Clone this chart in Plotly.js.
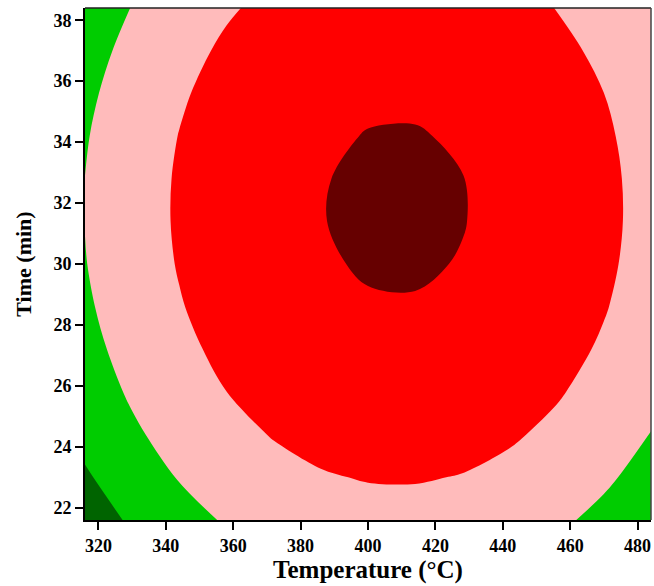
<!DOCTYPE html>
<html>
<head>
<meta charset="utf-8">
<script src="https://cdn.plot.ly/plotly-3.0.1.min.js"></script>
<style>html,body{margin:0;padding:0;background:#fff}#chart{width:654px;height:586px}</style>
</head>
<body>
<div id="chart"></div>
<script>
// Temperature (°C) grid
const temperature = [316, 330, 344, 358, 372, 386, 400, 414, 428, 442, 456, 470, 484];
// Time (min) grid
const time = [21.6, 23.0, 24.4, 25.8, 27.2, 28.6, 30.0, 31.4, 32.8, 34.2, 35.6, 37.0, 38.4];
// Response values (rows follow time, columns follow temperature)
const row216 = [0.608, 1.100, 1.684, 2.078, 2.376, 2.579, 2.686, 2.697, 2.612, 2.431, 2.155, 1.782, 1.314];
const row230 = [0.883, 1.553, 2.043, 2.437, 2.735, 2.938, 3.045, 3.056, 2.971, 2.790, 2.514, 2.141, 1.673];
const row244 = [1.273, 1.859, 2.349, 2.743, 3.042, 3.244, 3.351, 3.362, 3.277, 3.097, 2.820, 2.448, 1.980];
const row258 = [1.527, 2.113, 2.603, 2.997, 3.295, 3.498, 3.605, 3.616, 3.531, 3.350, 3.074, 2.701, 2.233];
const row272 = [1.728, 2.314, 2.804, 3.198, 3.496, 3.699, 3.806, 3.817, 3.732, 3.551, 3.275, 2.902, 2.434];
const row286 = [1.876, 2.462, 2.952, 3.346, 3.645, 3.847, 3.954, 3.965, 3.880, 3.699, 3.423, 3.051, 2.582];
const row300 = [1.972, 2.558, 3.048, 3.442, 3.740, 3.943, 4.049, 4.060, 3.976, 3.795, 3.518, 3.146, 2.678];
const row314 = [2.015, 2.601, 3.091, 3.485, 3.783, 3.986, 4.092, 4.103, 4.018, 3.838, 3.561, 3.189, 2.721];
const row328 = [2.005, 2.591, 3.081, 3.475, 3.773, 3.976, 4.083, 4.094, 4.009, 3.828, 3.552, 3.179, 2.711];
const row342 = [1.942, 2.528, 3.018, 3.412, 3.711, 3.913, 4.020, 4.031, 3.946, 3.766, 3.489, 3.117, 2.649];
const row356 = [1.827, 2.413, 2.903, 3.297, 3.596, 3.798, 3.905, 3.916, 3.831, 3.650, 3.374, 3.002, 2.534];
const row370 = [1.660, 2.245, 2.735, 3.130, 3.428, 3.630, 3.737, 3.748, 3.663, 3.483, 3.206, 2.834, 2.366];
const row384 = [1.439, 2.025, 2.515, 2.909, 3.207, 3.410, 3.516, 3.528, 3.443, 3.262, 2.985, 2.613, 2.145];
const response = [row216, row230, row244, row258, row272, row286, row300, row314, row328, row342, row356, row370, row384];

const xTicks = [320, 340, 360, 380, 400, 420, 440, 460, 480];
const yTicks = [22, 24, 26, 28, 30, 32, 34, 36, 38];

const cDG = '#006400', cG = '#00CC00', cP = '#FFBBBB', cR = '#FF0000', cDR = '#660000';

const trace = {
  type: 'contour',
  x: temperature,
  y: time,
  z: response,
  showscale: false,
  hoverinfo: 'skip',
  contours: {start: 1, end: 4, size: 1, coloring: 'fill', showlines: false},
  line: {width: 0, smoothing: 1},
  colorscale: [[0, cDG], [0.125, cDG], [0.125, cG], [0.375, cG], [0.375, cP], [0.625, cP], [0.625, cR], [0.875, cR], [0.875, cDR], [1, cDR]]
};

const fontFam = '"Liberation Serif", "Times New Roman", serif';

const layout = {
  width: 654, height: 586,
  margin: {l: 85, r: 3, t: 8, b: 66},
  paper_bgcolor: '#fff', plot_bgcolor: '#fff',
  showlegend: false,
  xaxis: {
    range: [316, 484], tickvals: xTicks, ticktext: xTicks.map(String),
    ticks: 'outside', ticklen: 8, tickwidth: 2, tickcolor: '#000',
    showline: true, linewidth: 2, linecolor: '#000', showgrid: false, zeroline: false,
    tickfont: {family: fontFam, size: 18, color: '#000', weight: 'bold'},
    title: {text: 'Temperature (°C)', font: {family: fontFam, size: 25, color: '#000', weight: 'bold'}, standoff: 5}
  },
  yaxis: {
    range: [21.6, 38.4], tickvals: yTicks, ticktext: yTicks.map(String),
    ticks: 'outside', ticklen: 8, tickwidth: 2, tickcolor: '#000',
    showline: true, linewidth: 2, linecolor: '#000', showgrid: false, zeroline: false,
    tickfont: {family: fontFam, size: 18, color: '#000', weight: 'bold'},
    title: {text: 'Time (min)', font: {family: fontFam, size: 22, color: '#000', weight: 'bold'}, standoff: 16}
  },
  shapes: [
    {type: 'line', xref: 'paper', yref: 'paper', x0: 0, x1: 1, y0: 1, y1: 1, line: {color: '#222', width: 1.5}},
    {type: 'line', xref: 'paper', yref: 'paper', x0: 1, x1: 1, y0: 0, y1: 1, line: {color: '#444', width: 1.5}}
  ]
};

Plotly.newPlot('chart', [trace], layout, {displayModeBar: false, staticPlot: true});
</script>
</body>
</html>
